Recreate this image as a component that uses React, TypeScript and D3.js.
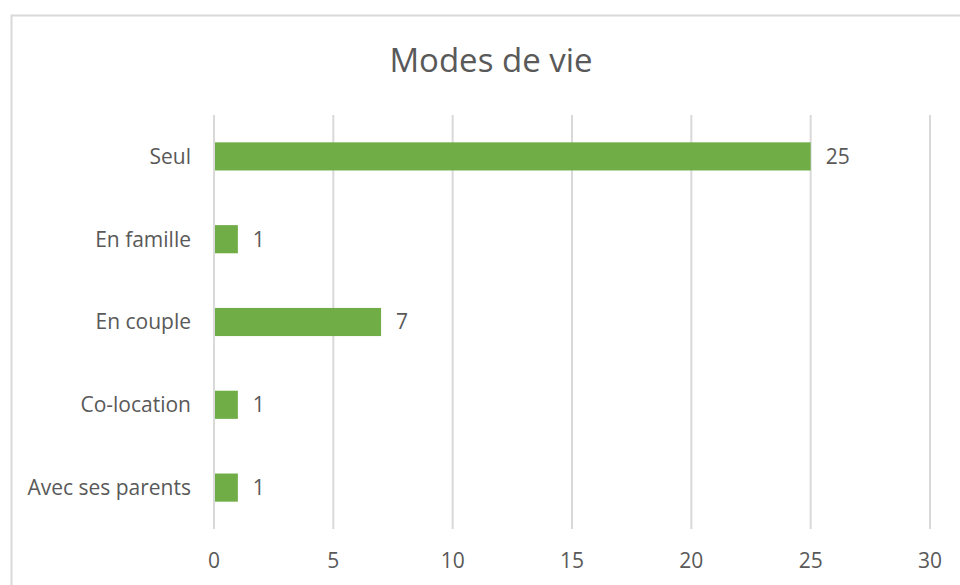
import React, { useEffect, useRef } from 'react';
import * as d3 from 'd3';

const categories = ['Seul', 'En famille', 'En couple', 'Co-location', 'Avec ses parents'];
const values = [25, 1, 7, 1, 1];
const ticks = [0, 5, 10, 15, 20, 25, 30];
const title = 'Modes de vie';

const App = () => {
  const ref = useRef<SVGSVGElement>(null);
  const width = 960;
  const height = 585;
  const margin = { top: 115, right: 30, bottom: 56, left: 214 };
  const font = '"Open Sans", sans-serif';
  const textColor = '#595959';
  const labelSize = 21;

  useEffect(() => {
    const svg = d3.select(ref.current);
    svg.selectAll('*').remove();

    // Chart frame
    svg.append('rect')
      .attr('x', 11.5)
      .attr('y', 15.5)
      .attr('width', 980)
      .attr('height', 600)
      .attr('fill', '#fff')
      .attr('stroke', '#d9d9d9')
      .attr('stroke-width', 2);

    const x = d3.scaleLinear()
      .domain([0, 30])
      .range([margin.left, width - margin.right]);

    const y = d3.scaleBand()
      .domain(categories)
      .range([margin.top, height - margin.bottom])
      .paddingInner(0.66)
      .paddingOuter(0.33);

    // Gridlines
    svg.append('g')
      .selectAll('line')
      .data(ticks)
      .join('line')
      .attr('x1', d => x(d))
      .attr('x2', d => x(d))
      .attr('y1', margin.top)
      .attr('y2', height - margin.bottom)
      .attr('stroke', '#d9d9d9')
      .attr('stroke-width', 2);

    // Bars
    svg.append('g')
      .selectAll('rect')
      .data(values)
      .join('rect')
      .attr('x', x(0) + 1)
      .attr('y', (d, i) => y(categories[i])!)
      .attr('width', d => x(d) - x(0) - 1)
      .attr('height', y.bandwidth())
      .attr('fill', '#70ad47');

    // Value labels
    svg.append('g')
      .selectAll('text')
      .data(values)
      .join('text')
      .attr('x', d => x(d) + 15)
      .attr('y', (d, i) => y(categories[i])! + y.bandwidth() / 2)
      .attr('dy', '0.35em')
      .attr('font-family', font)
      .attr('font-size', labelSize)
      .attr('fill', textColor)
      .text(d => d);

    // Category labels
    svg.append('g')
      .selectAll('text')
      .data(categories)
      .join('text')
      .attr('x', 191)
      .attr('y', d => y(d)! + y.bandwidth() / 2)
      .attr('dy', '0.35em')
      .attr('text-anchor', 'end')
      .attr('font-family', font)
      .attr('font-size', labelSize)
      .attr('fill', textColor)
      .text(d => d);

    // X tick labels
    svg.append('g')
      .selectAll('text')
      .data(ticks)
      .join('text')
      .attr('x', d => x(d))
      .attr('y', 561)
      .attr('dy', '0.35em')
      .attr('text-anchor', 'middle')
      .attr('font-family', font)
      .attr('font-size', labelSize)
      .attr('fill', textColor)
      .text(d => d);

    // Title
    svg.append('text')
      .attr('x', 491)
      .attr('y', 60)
      .attr('dy', '0.35em')
      .attr('text-anchor', 'middle')
      .attr('font-family', font)
      .attr('font-size', 33)
      .attr('fill', textColor)
      .text(title);
  }, []);

  return (
    <svg
      ref={ref}
      width={width}
      height={height}
      style={{ position: 'absolute', left: 0, top: 0, display: 'block' }}
    />
  );
};

export default App;
